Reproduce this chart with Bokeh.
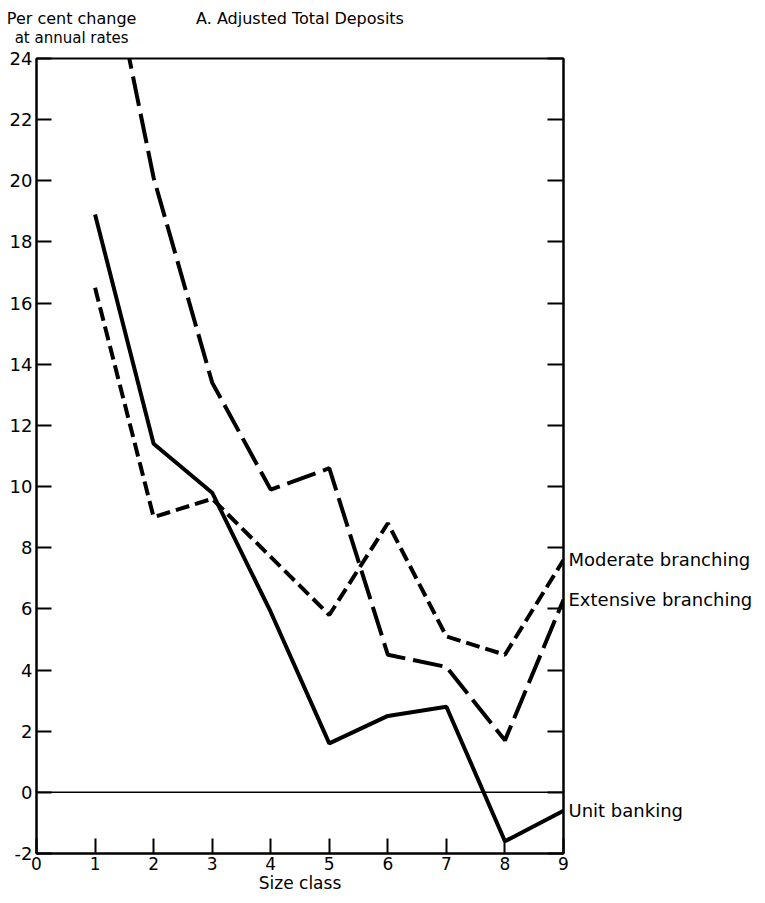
from bokeh.plotting import figure
from bokeh.models import Range1d, LinearAxis, FixedTicker, Span, CustomJSTickFormatter
from bokeh.embed import file_html
from bokeh.resources import INLINE

# ---- data ----
size_class = [1, 2, 3, 4, 5, 6, 7, 8, 9]
unit_banking = [18.9, 11.4, 9.8, 5.9, 1.6, 2.5, 2.8, -1.6, -0.6]
moderate_branching = [16.5, 9.0, 9.6, 7.7, 5.8, 8.8, 5.1, 4.5, 7.6]
extensive_branching = [29.5, 20.1, 13.4, 9.9, 10.6, 4.5, 4.1, 1.7, 6.3]

x_ticks = [0, 1, 2, 3, 4, 5, 6, 7, 8, 9]
x_tick_labels = ["0", "1", "2", "3", "4", "5", "6", "7", "8", "9"]
y_ticks = [-2, 0, 2, 4, 6, 8, 10, 12, 14, 16, 18, 20, 22, 24]
y_tick_labels = ["-2", "0", "2", "4", "6", "8", "10", "12", "14", "16", "18", "20", "22", "24"]

series_names = ["Moderate branching", "Extensive branching", "Unit banking"]
title_text = "A. Adjusted Total Deposits"
y_title_lines = ["Per cent change", "at annual rates"]
x_title = "Size class"

FONT = "DejaVu Sans"

p = figure(width=757, height=895, output_backend="svg", toolbar_location=None,
           x_range=Range1d(0, 9), y_range=Range1d(-2, 24),
           min_border_left=36, min_border_right=194, min_border_top=58, min_border_bottom=42,
           background_fill_color="white", border_fill_color="white")
p.xgrid.visible = False
p.ygrid.visible = False
p.outline_line_color = "black"
p.outline_line_width = 2


def style_axis(ax, tick_in):
    ax.axis_line_color = "black"
    ax.axis_line_width = 2
    ax.major_tick_line_color = "black"
    ax.major_tick_line_width = 2
    ax.major_tick_in = tick_in
    ax.major_tick_out = 0
    ax.minor_tick_line_color = None
    ax.major_label_text_font = FONT
    ax.major_label_text_font_size = "18px"
    ax.major_label_text_color = "black"


def text_axis(ticks, labels, size, standoff):
    """An axis used only to carry text above the frame (no line, no ticks)."""
    ax = LinearAxis(
        ticker=FixedTicker(ticks=ticks),
        formatter=CustomJSTickFormatter(
            args=dict(vals=ticks, names=labels),
            code="for (let i = 0; i < vals.length; i++) { if (Math.abs(vals[i] - tick) < 1e-9) return names[i] } return ''",
        ),
    )
    ax.axis_line_color = None
    ax.major_tick_line_color = None
    ax.minor_tick_line_color = None
    ax.major_tick_in = 0
    ax.major_tick_out = 0
    ax.major_label_standoff = standoff
    ax.major_label_text_font = FONT
    ax.major_label_text_font_size = size
    ax.major_label_text_color = "black"
    return ax


# left axis
ya = p.yaxis[0]
ya.ticker = FixedTicker(ticks=y_ticks)
ya.major_label_overrides = {t: l for t, l in zip(y_ticks, y_tick_labels)}
style_axis(ya, 15)
ya.major_label_standoff = 4

# bottom axis
xa = p.xaxis[0]
xa.ticker = FixedTicker(ticks=x_ticks)
xa.major_label_overrides = {t: l for t, l in zip(x_ticks, x_tick_labels)}
style_axis(xa, 15)
xa.major_label_text_font_size = "17px"
xa.major_label_standoff = 3
xa.axis_label = x_title
xa.axis_label_standoff = 0
xa.axis_label_text_font = FONT
xa.axis_label_text_font_size = "17px"
xa.axis_label_text_font_style = "normal"
xa.axis_label_text_color = "black"

# right axis: even-valued tick marks (as minor ticks) + series names at the line ends
ends = [moderate_branching[-1], extensive_branching[-1], unit_banking[-1]]
ra = LinearAxis(
    ticker=FixedTicker(ticks=ends, minor_ticks=y_ticks),
    formatter=CustomJSTickFormatter(
        args=dict(vals=ends, names=series_names),
        code="for (let i = 0; i < vals.length; i++) { if (Math.abs(vals[i] - tick) < 1e-9) return names[i] } return ''",
    ),
)
ra.axis_line_color = "black"
ra.axis_line_width = 2
ra.major_tick_line_color = None
ra.major_tick_in = 0
ra.major_tick_out = 0
ra.minor_tick_line_color = "black"
ra.minor_tick_line_width = 2
ra.minor_tick_in = 16
ra.minor_tick_out = 0
ra.major_label_standoff = 5
ra.major_label_text_font = FONT
ra.major_label_text_font_size = "18px"
ra.major_label_text_color = "black"
p.add_layout(ra, "right")

# header text rows above the frame (nearest row first)
row2 = text_axis([0.6], [y_title_lines[1]], "15px", 12)
row1 = text_axis([0.6, 4.5], [y_title_lines[0], title_text], "16px", -2)
p.add_layout(row2, "above")
p.add_layout(row1, "above")

# zero line
p.add_layout(Span(location=0, dimension="width", line_color="black", line_width=1.5))

# series
p.line(size_class, extensive_branching, line_color="black", line_width=4, line_dash="30 8")
p.line(size_class, moderate_branching, line_color="black", line_width=4, line_dash="14 6")
p.line(size_class, unit_banking, line_color="black", line_width=4)

open("out.html", "w").write(file_html(p, INLINE))
